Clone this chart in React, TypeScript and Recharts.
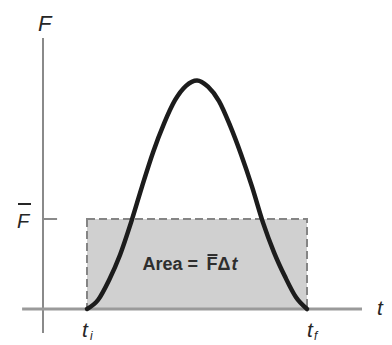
import React from 'react';
import {
  ComposedChart,
  Line,
  XAxis,
  YAxis,
  ReferenceArea,
  ReferenceLine,
  ReferenceDot,
} from 'recharts';

// time samples (arbitrary units) between t_i and t_f
const times = [2, 2.5, 3, 3.5, 4, 4.5, 5, 5.5, 6, 6.5, 7, 7.5, 8, 8.5, 9, 9.5, 10, 10.5, 11, 11.5, 12];
// force values
const forces = [0, 0.1, 0.32, 0.6, 0.96, 1.36, 1.74, 2.06, 2.32, 2.48, 2.54, 2.47, 2.31, 2.04, 1.72, 1.36, 0.96, 0.63, 0.36, 0.13, 0];

const startTime = 2; // t_i
const endTime = 12; // t_f
const averageForce = 1; // F-bar

const xDomain = [-43 / 22, 349 / 22];
const yDomain = [-36 / 90, 309 / 90];

const data = times.map((t, i) => ({ t, f: forces[i] }));

const FONT = '"Liberation Sans", Arial, Helvetica, sans-serif';
const INK = '#262626';

const TopF = (p: any) => (
  <text x={p.cx - 5} y={p.cy - 7} fontFamily={FONT} fontStyle="italic" fontSize={22} fill={INK}>
    F
  </text>
);

const AvgF = (p: any) => (
  <g>
    <text x={p.cx - 26} y={p.cy + 9} fontFamily={FONT} fontStyle="italic" fontSize={20} fill={INK}>
      F
    </text>
    <line x1={p.cx - 25} x2={p.cx - 12} y1={p.cy - 15} y2={p.cy - 15} stroke={INK} strokeWidth={2} />
  </g>
);

const AreaText = (p: any) => (
  <g fill="#2e2e2e" fontFamily={FONT} fontWeight="bold" fontSize={18}>
    <text x={p.cx - 51} y={p.cy}>Area =</text>
    <text x={p.cx + 13} y={p.cy}>F</text>
    <line x1={p.cx + 14} x2={p.cx + 24} y1={p.cy - 15} y2={p.cy - 15} stroke="#2e2e2e" strokeWidth={2} />
    <text x={p.cx + 24} y={p.cy}>Δ</text>
    <text x={p.cx + 38} y={p.cy} fontStyle="italic">t</text>
  </g>
);

const TI = (p: any) => (
  <g fill={INK} fontFamily={FONT} fontStyle="italic">
    <text x={p.cx - 5} y={p.cy} fontSize={21}>t</text>
    <text x={p.cx + 3} y={p.cy + 3} fontSize={12}>i</text>
  </g>
);

const TF = (p: any) => (
  <g fill={INK} fontFamily={FONT} fontStyle="italic">
    <text x={p.cx} y={p.cy} fontSize={21}>t</text>
    <text x={p.cx + 7} y={p.cy + 3} fontSize={12}>f</text>
  </g>
);

const TAxis = (p: any) => (
  <text x={p.cx} y={p.cy + 6} fontFamily={FONT} fontStyle="italic" fontSize={21} fill={INK}>
    t
  </text>
);

export default function App() {
  return (
    <div style={{ position: 'absolute', left: 0, top: 0, width: 392, height: 345, background: '#fff' }}>
      <ComposedChart width={392} height={345} data={data} margin={{ top: 0, right: 0, bottom: 0, left: 0 }}>
        <XAxis dataKey="t" type="number" domain={xDomain} allowDataOverflow hide />
        <YAxis type="number" domain={yDomain} allowDataOverflow hide />
        <ReferenceArea
          x1={startTime}
          x2={endTime}
          y1={0}
          y2={averageForce}
          fill="#d0d0d0"
          fillOpacity={1}
          stroke="#858585"
          strokeWidth={2}
          strokeDasharray="8 4"
        />
        <ReferenceLine segment={[{ x: 0, y: -0.267 }, { x: 0, y: 3.01 }]} stroke="#8a8a8a" strokeWidth={2} />
        <ReferenceLine segment={[{ x: -0.95, y: 0 }, { x: 14.5, y: 0 }]} stroke="#9a9a9a" strokeWidth={3} />
        <ReferenceLine segment={[{ x: 0, y: averageForce }, { x: 0.64, y: averageForce }]} stroke="#8a8a8a" strokeWidth={2} />
        <Line
          dataKey="f"
          type="monotone"
          stroke="#1c1c1c"
          strokeWidth={4.5}
          strokeLinecap="round"
          dot={false}
          activeDot={false}
          isAnimationActive={false}
        />
        <ReferenceDot x={0} y={3.01} r={0} shape={TopF} />
        <ReferenceDot x={0} y={averageForce} r={0} shape={AvgF} />
        <ReferenceDot x={6.84} y={0.433} r={0} shape={AreaText} />
        <ReferenceDot x={startTime} y={-0.311} r={0} shape={TI} />
        <ReferenceDot x={endTime} y={-0.311} r={0} shape={TF} />
        <ReferenceDot x={15.18} y={0} r={0} shape={TAxis} />
      </ComposedChart>
    </div>
  );
}
